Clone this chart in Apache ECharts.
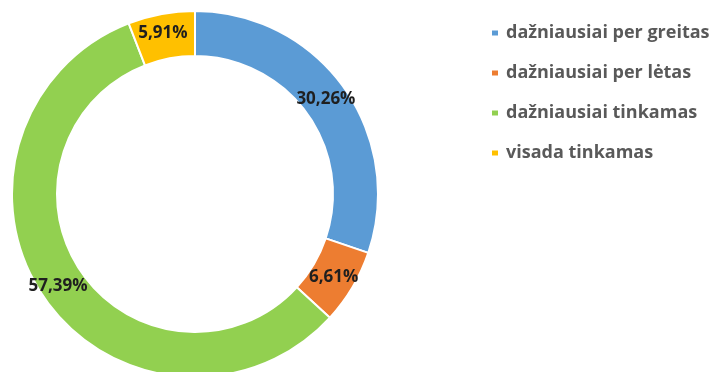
<!DOCTYPE html>
<html>
<head>
<meta charset="utf-8">
<script src="https://cdn.jsdelivr.net/npm/echarts@6/dist/echarts.min.js"></script>
<style>
  html, body { margin: 0; padding: 0; background: #fff; }
  #chart { width: 710px; height: 372px; }
</style>
</head>
<body>
<div id="chart"></div>
<script>
// Answer categories and their shares (%)
const categories = [
  'dažniausiai per greitas',
  'dažniausiai per lėtas',
  'dažniausiai tinkamas',
  'visada tinkamas'
];
const shares = [30.26, 6.61, 57.39, 5.91];
const palette = ['#5B9BD5', '#ED7D31', '#92D050', '#FFC000'];

const chart = echarts.init(document.getElementById('chart'));
chart.setOption({
  animation: false,
  color: palette,
  legend: {
    orient: 'vertical',
    left: 485,
    top: 19,
    icon: 'rect',
    itemWidth: 8,
    itemHeight: 7,
    itemGap: 22,
    textStyle: {
      fontFamily: 'Open Sans',
      fontWeight: 'bold',
      fontSize: 18,
      color: '#595959',
      padding: [0, 0, 0, 2]
    },
    data: categories
  },
  series: [{
    type: 'pie',
    center: [195, 194],
    radius: [138, 183],
    startAngle: 90,
    clockwise: true,
    itemStyle: { borderColor: '#fff', borderWidth: 2 },
    label: {
      show: true,
      position: 'inside',
      formatter: p => p.value.toFixed(2).replace('.', ',') + '%',
      fontFamily: 'Open Sans',
      fontWeight: 'bold',
      fontSize: 17,
      color: '#1f1f1f',
      backgroundColor: 'rgba(0,0,0,0)',
      padding: [10, 4, 0, 0]
    },
    labelLine: { show: false },
    data: categories.map((name, i) => ({ name, value: shares[i] }))
  }]
});
</script>
</body>
</html>
